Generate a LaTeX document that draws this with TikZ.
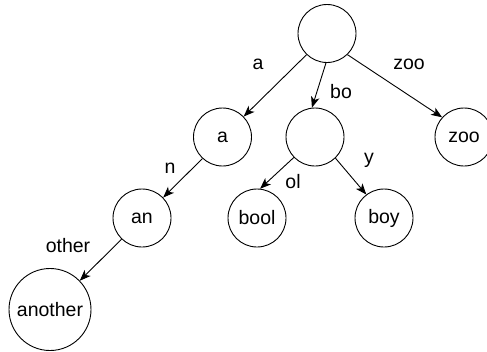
\documentclass[tikz,border=0pt]{standalone}
\usepackage{fontspec}
\setmainfont{Liberation Sans}
\usetikzlibrary{arrows.meta}
\begin{document}
\begin{tikzpicture}[x=1pt,y=-1pt,
  every node/.style={font=\fontsize{19.5}{23}\selectfont, inner sep=0pt},
  nd/.style={circle, draw, line width=0.9pt, minimum size=58pt},
  big/.style={circle, draw, line width=0.9pt, minimum size=82pt},
  lbl/.style={},
  edge/.style={line width=0.9pt, -{Stealth[length=11pt,width=8.5pt,inset=3pt]}}]
\useasboundingbox (0,0) rectangle (487,351);
\node[nd] (root) at (327,33.5) {};
\node[nd] (a) at (222.5,137) {a};
\node[nd] (bo) at (315,137) {};
\node[nd] (zoo) at (464,137) {zoo};
\node[nd] (an) at (142,218) {an};
\node[nd] (bool) at (257,218) {bool};
\node[nd] (boy) at (384,218) {boy};
\node[big] (another) at (50,309.5) {another};
\draw[edge] (root.226) -- (a.44);
\draw[edge] (root.268) -- (bo.96);
\draw[edge] (root.314) -- (zoo.138);
\draw[edge] (a.227) -- (an.44);
\draw[edge] (an.226) -- (another.44);
\draw[edge] (bo.224) -- (bool.84);
\draw[edge] (bo.314) -- (boy.127);
\node[lbl] (la) at (258,64) {a};
\node[lbl] (lzoo) at (409,64) {zoo};
\node[lbl] (lbo) at (341,92) {bo};
\node[lbl] (ln) at (170,168) {n};
\node[lbl] (lol) at (293,182) {ol};
\node[lbl] (ly) at (369,160) {y};
\node[lbl] (lother) at (68,246) {other};
\end{tikzpicture}
\end{document}
